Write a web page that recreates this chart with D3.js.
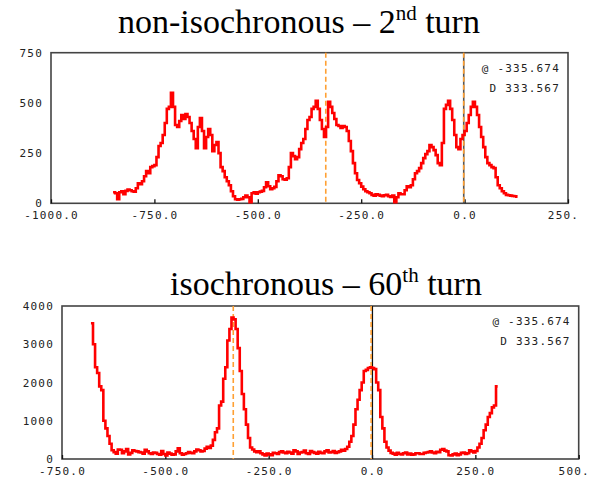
<!DOCTYPE html>
<html>
<head>
<meta charset="utf-8">
<script src="https://cdn.jsdelivr.net/npm/d3@7"></script>
<style>
  body { margin: 0; background: #fff; }
  .tick text, .note { font-family: "DejaVu Sans Mono", monospace; font-size: 11px; letter-spacing: 1.2px; fill: #222; }
  .title { font-family: "Liberation Serif", "Times New Roman", serif; fill: #000; }
</style>
</head>
<body>
<div id="chart-area"></div>
<script>
// non-isochronous, 2nd turn: histogram counts, 5-unit bins starting at -850
const topStart = -850
const topEnd = 128
const topCounts = [55, 50, 20, 55, 60, 45, 62, 68, 65, 60,
  58, 75, 100, 95, 110, 135, 160, 150, 180, 185,
  190, 230, 285, 300, 340, 400, 470, 480, 550, 480,
  390, 380, 410, 440, 420, 445, 430, 400, 360, 320,
  275, 380, 425, 360, 275, 330, 370, 340, 260, 290,
  305, 250, 180, 160, 130, 110, 90, 60, 35, 20,
  18, 20, 22, 30, 38, 30, 5, 50, 55, 48,
  55, 58, 62, 80, 105, 85, 70, 75, 82, 110,
  140, 135, 120, 118, 125, 180, 250, 235, 220, 230,
  270, 300, 320, 370, 415, 430, 470, 480, 510, 470,
  415, 370, 330, 380, 505, 480, 450, 420, 390, 385,
  375, 385, 380, 360, 310, 260, 200, 150, 116, 100,
  83, 70, 60, 55, 50, 42, 38, 45, 42, 38,
  35, 40, 42, 35, 32, 38, 5, 30, 50, 45,
  45, 65, 85, 80, 90, 120, 150, 160, 175, 200,
  225, 245, 260, 290, 280, 265, 240, 200, 190, 300,
  470, 490, 510, 470, 415, 340, 280, 270, 320, 340,
  360, 400, 440, 480, 505, 480, 440, 380, 330, 280,
  230, 200, 190, 180, 175, 130, 90, 75, 60, 50,
  42, 40, 38, 36, 35, 33]
const topXTicks = [-1000, -750, -500, -250, 0, 250]
const topXLabels = ['-1000.0', '-750.0', '-500.0', '-250.0', '0.0', '250.']
const topYTicks = [0, 250, 500, 750]

// isochronous, 60th turn: 5-unit bins starting at -680
const botStart = -680
const botEnd = 304
const botCounts = [3550, 3000, 2400, 2250, 1900, 1800, 1000, 800, 600, 400,
  230, 180, 140, 250, 240, 150, 200, 260, 120, 160,
  230, 210, 200, 180, 170, 140, 240, 200, 150, 130,
  170, 160, 130, 110, 210, 130, 90, 170, 140, 110,
  120, 200, 280, 150, 110, 130, 150, 180, 160, 150,
  200, 250, 230, 200, 210, 270, 320, 290, 350, 500,
  700, 800, 1400, 1500, 2100, 2400, 3100, 3400, 3700, 3650,
  3400, 2900, 2300, 1700, 1300, 900, 550, 300, 250, 200,
  180, 200, 150, 120, 90, 140, 120, 100, 160, 150,
  130, 180, 200, 170, 150, 190, 170, 140, 230, 200,
  130, 170, 180, 220, 150, 130, 210, 180, 160, 140,
  190, 160, 150, 200, 230, 170, 180, 210, 160, 180,
  200, 240, 220, 260, 320, 450, 600, 900, 1300, 1550,
  1800, 2000, 2300, 2330, 2380, 2400, 2380, 2350, 2000, 1800,
  1100, 800, 450, 300, 220, 160, 140, 110, 160, 130,
  120, 150, 170, 120, 140, 110, 120, 150, 150, 130,
  130, 160, 170, 180, 200, 170, 150, 190, 180, 240,
  260, 220, 200, 100, 90, 120, 140, 100, 120, 160,
  170, 130, 150, 230, 200, 170, 210, 300, 400, 550,
  750, 900, 1100, 1200, 1350, 1400, 1900]
const botXTicks = [-750, -500, -250, 0, 250, 500]
const botXLabels = ['-750.0', '-500.0', '-250.0', '0.0', '250.0', '500.']
const botYTicks = [0, 1000, 2000, 3000, 4000]

const marker = -335.674
const delta = 333.567
const notes = ['@ -335.674', 'D 333.567']
const binWidth = 5

const svg = d3.select('#chart-area').append('svg')
  .attr('width', 590)
  .attr('height', 479)

function panel(o) {
  const x = d3.scaleLinear().domain(o.xDomain).range([o.left, o.right])
  const y = d3.scaleLinear().domain(o.yDomain).range([o.bottom, o.top])

  // title with superscript
  const t = svg.append('text')
    .attr('class', 'title')
    .attr('x', o.titleX)
    .attr('y', o.titleY)
    .attr('font-size', '34px')
  t.append('tspan').text(o.title[0])
  t.append('tspan').attr('font-size', '21px').attr('dy', -13).text(o.title[1])
  t.append('tspan').attr('dy', 13).text(o.title[2])

  // frame
  svg.append('rect')
    .attr('x', o.left)
    .attr('y', o.top)
    .attr('width', o.right - o.left)
    .attr('height', o.bottom - o.top)
    .attr('fill', 'none')
    .attr('stroke', '#444')
    .attr('stroke-width', 1.6)

  const xAxis = svg.append('g')
    .attr('transform', `translate(0,${o.bottom})`)
    .call(d3.axisBottom(x).tickValues(o.xTicks)
      .tickFormat((d, i) => o.xLabels[i]).tickSize(-4).tickPadding(8))
  xAxis.select('.domain').remove()
  xAxis.selectAll('line').attr('stroke', '#111').attr('stroke-width', 1.3)
  // last label sits at the picture edge; nudge it in a little
  xAxis.selectAll('.tick text').filter((d, i, n) => i === n.length - 1).attr('dx', -5)

  const yAxis = svg.append('g')
    .attr('transform', `translate(${o.left},0)`)
    .call(d3.axisLeft(y).tickValues(o.yTicks).tickFormat(d3.format('d'))
      .tickSize(0).tickPadding(8))
  yAxis.select('.domain').remove()

  // cursor lines
  const xm = x(marker), xd = x(marker + delta)
  svg.append('line')
    .attr('x1', xm).attr('x2', xm).attr('y1', o.top).attr('y2', o.bottom)
    .attr('stroke', '#ffa033').attr('stroke-width', 1.6).attr('stroke-dasharray', '5,3')
  if (o.solidCursor) {
    const xc = x(o.solidCursor)
    svg.append('line')
      .attr('x1', xc).attr('x2', xc).attr('y1', o.top).attr('y2', o.bottom)
      .attr('stroke', '#111').attr('stroke-width', 1.3)
  } else {
    svg.append('line')
      .attr('x1', xd).attr('x2', xd).attr('y1', o.top).attr('y2', o.bottom)
      .attr('stroke', '#555').attr('stroke-width', 1.6)
  }
  svg.append('line')
    .attr('x1', xd).attr('x2', xd).attr('y1', o.top).attr('y2', o.bottom)
    .attr('stroke', '#ffa033').attr('stroke-width', 1.6).attr('stroke-dasharray', '5,3')

  // histogram as step line
  const pts = o.counts.map((c, i) => [o.start + i * binWidth, c])
  pts.push([o.end, o.counts[o.counts.length - 1]])
  svg.append('path')
    .datum(pts)
    .attr('fill', 'none')
    .attr('stroke', '#ff0000')
    .attr('stroke-width', 2.6)
    .attr('d', d3.line().x(d => x(d[0])).y(d => y(d[1])).curve(d3.curveStepAfter))

  svg.selectAll(null)
    .data(notes)
    .enter().append('text')
    .attr('class', 'note')
    .attr('x', o.right - 8)
    .attr('y', (d, i) => o.top + 19 + i * 20)
    .attr('text-anchor', 'end')
    .text(d => d)
}

panel({
  left: 51, right: 568, top: 52.7, bottom: 203.3,
  xDomain: [-1000, 250], yDomain: [0, 750],
  xTicks: topXTicks, xLabels: topXLabels, yTicks: topYTicks,
  counts: topCounts, start: topStart, end: topEnd,
  title: ['non-isochronous \u2013 2', 'nd', ' turn'], titleX: 118, titleY: 33
})

panel({
  left: 62, right: 578.7, top: 306, bottom: 459,
  xDomain: [-750, 500], yDomain: [0, 4000],
  xTicks: botXTicks, xLabels: botXLabels, yTicks: botYTicks,
  counts: botCounts, start: botStart, end: botEnd, solidCursor: 1,
  title: ['isochronous \u2013 60', 'th', ' turn'], titleX: 170, titleY: 295
})
</script>
</body>
</html>
